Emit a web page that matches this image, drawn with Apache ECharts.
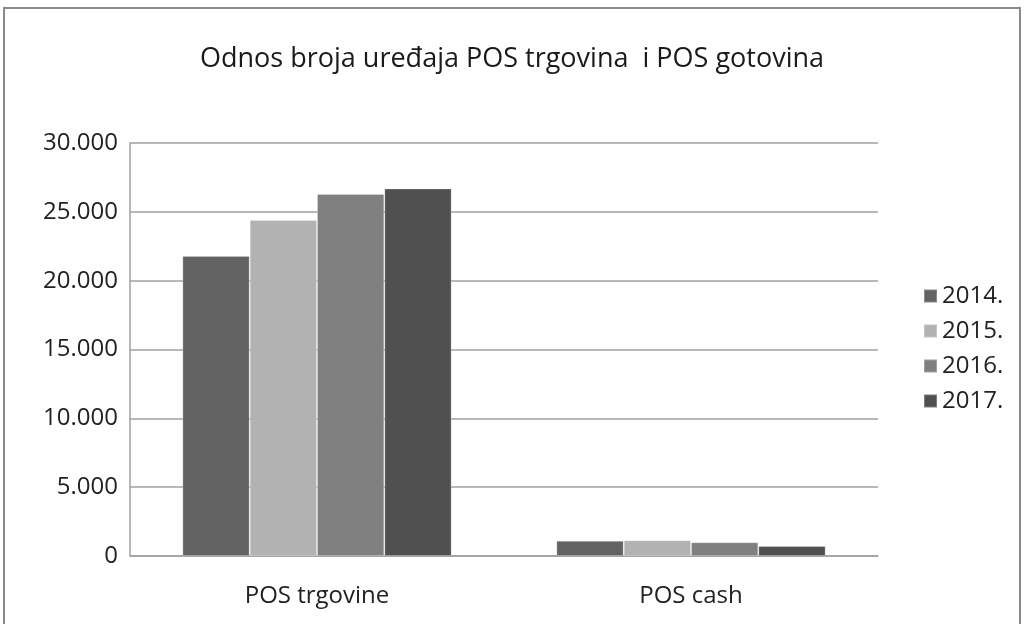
<!DOCTYPE html>
<html>
<head>
<meta charset="utf-8">
<script src="https://cdn.jsdelivr.net/npm/echarts@6/dist/echarts.min.js"></script>
<style>
  html, body { margin: 0; padding: 0; background: #fff; }
  #chart { width: 1024px; height: 624px; }
</style>
</head>
<body>
<div id="chart"></div>
<script>
// podaci sa slike
var categories = ['POS trgovine', 'POS cash'];
var years = ['2014.', '2015.', '2016.', '2017.'];
var values2014 = [21800, 1110];
var values2015 = [24400, 1150];
var values2016 = [26300, 1000];
var values2017 = [26700, 720];
var yTicks = [0, 5000, 10000, 15000, 20000, 25000, 30000];

var colors = ['#636363', '#b2b2b2', '#808080', '#505050'];
var seriesValues = [values2014, values2015, values2016, values2017];
var font = 'Open Sans';

var chart = echarts.init(document.getElementById('chart'), null, { renderer: 'canvas' });

var series = years.map(function (y, i) {
    return {
        name: y,
        type: 'bar',
        barGap: '0%',
        barCategoryGap: '28%',
        itemStyle: { color: colors[i], borderColor: 'rgba(255,255,255,0.25)', borderWidth: 1 },
        data: seriesValues[i]
    };
});

var option = {
    animation: false,
    color: colors,
    graphic: [{
        type: 'rect',
        shape: { x: 4, y: 8, width: 1016, height: 640 },
        style: { fill: 'none', stroke: '#8a8a8a', lineWidth: 2 },
        silent: true
    }],
    title: {
        text: 'Odnos broja uređaja POS trgovina  i POS gotovina',
        left: 'center',
        top: 41,
        textStyle: { fontFamily: font, fontSize: 27, fontWeight: 'normal', color: '#1a1a1a' }
    },
    legend: {
        data: years,
        orient: 'vertical',
        left: 918,
        top: 279,
        itemWidth: 13,
        itemHeight: 13,
        itemGap: 11,
        icon: 'rect',
        textStyle: { fontFamily: font, fontSize: 24, color: '#222' }
    },
    grid: { left: 130, right: 146, top: 143, bottom: 68 },
    xAxis: {
        type: 'category',
        data: categories,
        axisLine: { lineStyle: { color: '#a0a0a0', width: 1.5 } },
        axisTick: { show: false },
        axisLabel: { fontFamily: font, fontSize: 24, color: '#222', margin: 28 }
    },
    yAxis: {
        type: 'value',
        min: yTicks[0],
        max: yTicks[yTicks.length - 1],
        interval: 5000,
        axisLine: { show: true, lineStyle: { color: '#a0a0a0', width: 1.5 } },
        axisTick: { show: false },
        splitLine: { lineStyle: { color: '#a0a0a0', width: 1.5 } },
        axisLabel: {
            fontFamily: font, fontSize: 24, color: '#222', margin: 12,
            formatter: function (v) {
                return String(v).replace(/\B(?=(\d{3})+(?!\d))/g, '.');
            }
        }
    },
    series: series
};

chart.setOption(option);
</script>
</body>
</html>
